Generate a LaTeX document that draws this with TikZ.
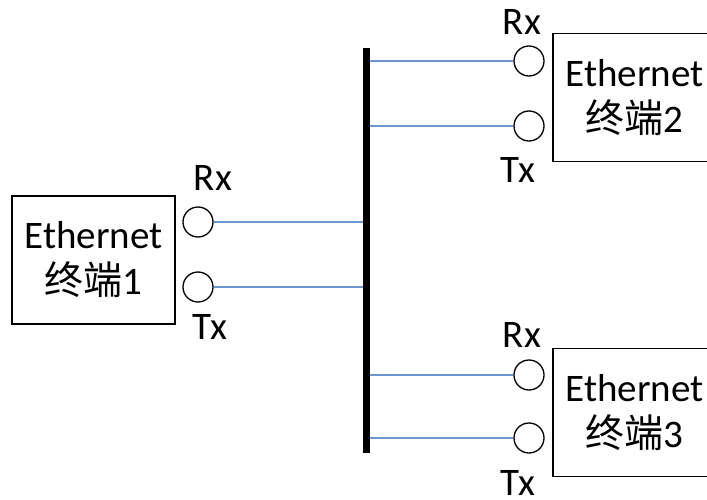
\documentclass[tikz,border=0pt]{standalone}
\usepackage{fontspec}
\setmainfont{Carlito}
\newfontfamily\cjk{Noto Sans CJK SC}
\definecolor{linkblue}{RGB}{110,150,205}
\begin{document}
\begin{tikzpicture}[x=1pt,y=-1pt,
  port/.style={circle,draw=black,line width=1.3pt,minimum size=30pt,inner sep=0pt},
  term/.style={draw=black,line width=1.3pt,minimum width=163pt,minimum height=128pt,inner sep=0pt,align=center,font=\fontsize{39}{46}\selectfont},
  lbl/.style={font=\fontsize{39}{46}\selectfont,inner sep=0pt},
  link/.style={draw=linkblue,line width=1.5pt},
  busbar/.style={fill=black,draw=none,minimum width=7pt,minimum height=405pt,inner sep=0pt}]
\useasboundingbox (0,0) rectangle (707,500);
\begin{scope}
\clip (0,0) rectangle (707,500);
% terminals
\node[term] (t1) at (93.5,260) {Ethernet\\{\cjk 终端}1};
\node[term] (t2) at (634.5,97.5) {Ethernet\\{\cjk 终端}2};
\node[term] (t3) at (634.5,412.5) {Ethernet\\{\cjk 终端}3};
% bus
\node[busbar] (bus) at (366.5,250.5) {};
% ports
\node[port] (c1r) at (198,222) {};
\node[port] (c1t) at (198,287) {};
\node[port] (c2r) at (529,61) {};
\node[port] (c2t) at (529,126) {};
\node[port] (c3r) at (529,375) {};
\node[port] (c3t) at (529,438) {};
% labels
\node[lbl] (l1r) at (213,178) {Rx};
\node[lbl] (l1t) at (210,327) {Tx};
\node[lbl] (l2r) at (522,22) {Rx};
\node[lbl] (l2t) at (518,170) {Tx};
\node[lbl] (l3r) at (522,335) {Rx};
\node[lbl] (l3t) at (518,483) {Tx};
% links
\draw[link] (c1r.east) -- (c1r.east -| bus.west);
\draw[link] (c1t.east) -- (c1t.east -| bus.west);
\draw[link] (c2r.west) -- (c2r.west -| bus.east);
\draw[link] (c2t.west) -- (c2t.west -| bus.east);
\draw[link] (c3r.west) -- (c3r.west -| bus.east);
\draw[link] (c3t.west) -- (c3t.west -| bus.east);
\end{scope}
\end{tikzpicture}
\end{document}
